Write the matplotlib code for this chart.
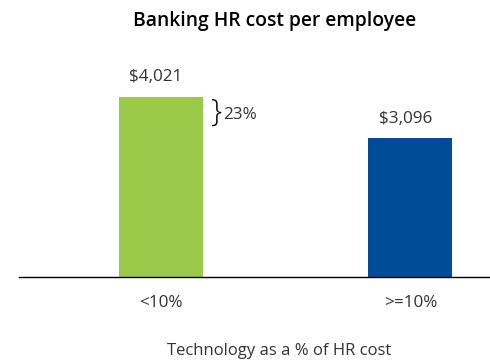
import matplotlib
matplotlib.use("Agg")
import matplotlib.pyplot as plt

categories = ["<10%", ">=10%"]
values = [4021, 3096]
value_labels = ["$4,021", "$3,096"]
gap_label = "23%"
colors = ["#9BCA4A", "#004C97"]

plt.rcParams["font.family"] = ["Open Sans", "DejaVu Sans"]
text_color = "#333333"

fig = plt.figure(figsize=(4.9, 3.6), dpi=100)
ax = fig.add_axes([0.039, 0.2306, 0.961, 0.658])

x = list(range(len(categories)))
ax.bar(x, values, width=0.337, color=colors)
ax.set_xlim(-0.569, 1.319)
ax.set_ylim(0, 5294)

for xi, v, lab in zip(x, values, value_labels):
    ax.text(xi - 0.02, v + 260, lab, ha="center", va="bottom",
            fontsize=12.3, color=text_color)

# Bracket marking the difference between the two groups
ax.text(0.2, values[0] - 350, "}", ha="left", va="center",
        fontsize=23, color="black", fontweight="light")
ax.text(0.25, values[0] - 400, gap_label, ha="left", va="center",
        fontsize=12.3, color=text_color)

for s in ["top", "right", "left"]:
    ax.spines[s].set_visible(False)
ax.spines["bottom"].set_color("black")
ax.spines["bottom"].set_linewidth(1.0)
ax.set_yticks([])
ax.set_xticks(x)
ax.set_xticklabels(categories, fontsize=12.3, color=text_color)
ax.tick_params(axis="x", length=0, pad=13)

fig.text(0.57, 0.003, "Technology as a % of HR cost", ha="center",
         va="bottom", fontsize=12, color=text_color)
fig.text(0.561, 0.942, "Banking HR cost per employee", ha="center",
         va="center", fontsize=13.9, fontweight="semibold", color="black")

fig.savefig("out.png", dpi=100)
